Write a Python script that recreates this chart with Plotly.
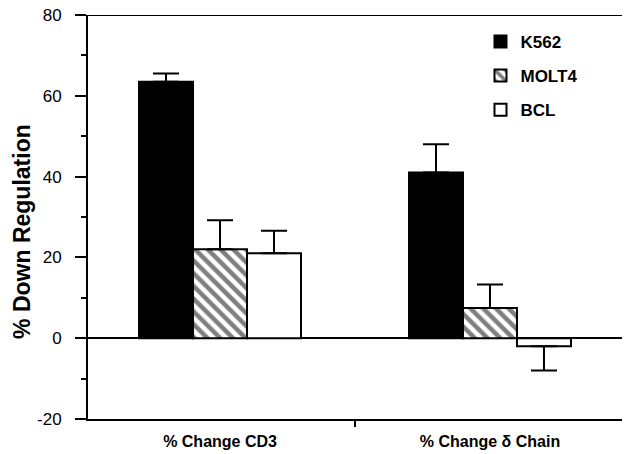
import plotly.graph_objects as go

# Cell line measurements (% down regulation) with one-sided SEM bars
categories = ["% Change CD3", "% Change \u03b4 Chain"]
k562 = [63.5, 41.0]
k562_err = [2.0, 7.0]
molt4 = [22.0, 7.5]
molt4_err = [7.2, 5.8]
bcl = [21.0, -2.0]
bcl_err = [5.6, 6.0]

y_tick_vals = [-20, 0, 20, 40, 60, 80]
y_tick_text = ["-20", "0", "20", "40", "60", "80"]

FONT = "Liberation Sans, Arial, Helvetica, sans-serif"


def one_sided(values, errs):
    """Error bars drawn only away from zero."""
    up = [e if v >= 0 else 0 for v, e in zip(values, errs)]
    down = [e if v < 0 else 0 for v, e in zip(values, errs)]
    return dict(type="data", symmetric=False, array=up, arrayminus=down,
                color="black", thickness=2, width=13)


outline = dict(color="black", width=2)

fig = go.Figure()
fig.add_trace(go.Bar(
    name="K562", x=categories, y=k562, legendgroup="a",
    marker=dict(color="black", line=outline),
    error_y=one_sided(k562, k562_err),
))
fig.add_trace(go.Bar(
    name="MOLT4", x=categories, y=molt4, legendgroup="b",
    marker=dict(color="white", line=outline,
                pattern=dict(shape="\\", fgcolor="black", bgcolor="white",
                             size=9, solidity=0.5)),
    error_y=one_sided(molt4, molt4_err),
))
fig.add_trace(go.Bar(
    name="BCL", x=categories, y=bcl, legendgroup="c",
    marker=dict(color="white", line=outline),
    error_y=one_sided(bcl, bcl_err),
))

fig.update_layout(
    width=624, height=454,
    margin=dict(l=88, r=2, t=15, b=35),
    paper_bgcolor="white", plot_bgcolor="white",
    barmode="group", bargap=0.4, bargroupgap=0,
    font=dict(family=FONT, color="black"),
    showlegend=True,
    legend=dict(x=0.735, y=0.978, xanchor="left", yanchor="top",
                bgcolor="rgba(0,0,0,0)", tracegroupgap=9,
                font=dict(size=17, family=FONT, weight="bold")),
    annotations=[dict(
        text="% Down Regulation", textangle=-90,
        xref="paper", yref="paper", x=-0.124, y=0.465,
        xanchor="center", yanchor="middle", showarrow=False,
        font=dict(size=23, family=FONT, weight="bold"),
    )],
)

fig.update_xaxes(
    range=[-0.489, 1.489], automargin=False,
    showline=True, linecolor="black", linewidth=2,
    mirror=False,
    ticks="outside", tickson="boundaries", ticklen=6, tickwidth=2, tickcolor="black",
    tickfont=dict(size=16, family=FONT, weight="bold"),
    ticklabelstandoff=7,
    showgrid=False,
)
fig.update_yaxes(
    range=[-20, 80], automargin=False,
    tickvals=y_tick_vals, ticktext=y_tick_text,
    showline=True, linecolor="black", linewidth=2,
    ticks="outside", ticklen=11, tickwidth=2, tickcolor="black",
    minor=dict(dtick=10, ticks="outside", ticklen=5, tickwidth=1.5, tickcolor="black"),
    tickfont=dict(size=17, family=FONT),
    ticklabelstandoff=10,
    showgrid=False,
    zeroline=True, zerolinecolor="black", zerolinewidth=2,
)

# top frame line of the plotting box
fig.add_shape(type="line", xref="paper", yref="y", x0=0, x1=1, y0=80, y1=80,
              line=dict(color="black", width=2))

fig.write_html("out.html")
